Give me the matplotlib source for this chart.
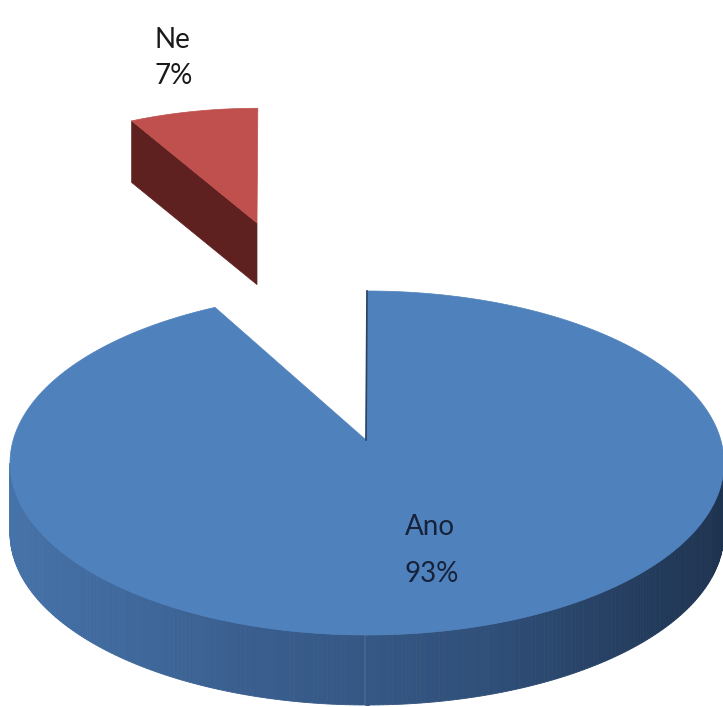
"""3D exploded pie chart: Ano / Ne"""
import numpy as np
import matplotlib
matplotlib.use('Agg')
import matplotlib.pyplot as plt
from matplotlib.patches import Polygon
from matplotlib.colors import LinearSegmentedColormap

# data
labels = ['Ano', 'Ne']
values = [93, 7]
pct_labels = ['93%', '7%']

top_colors = ['#4f81bd', '#c0504d']
face_colors = ['#2b4262', '#5e2120']

# geometry in pixel space (y grows downwards)
W, H = 723, 707
cx, cy = 367, 463          # centre of top ellipse
rx, ry = 357, 172          # radii of top ellipse
vx, vy = 366, 440          # projected pie centre (apex)
depth = 70

# exploded slice: offset + perspective shrink
explode = [None, dict(dx=-109, dy=-217, sx=0.83, sy=0.77, sd=0.88)]

side_cmap = LinearSegmentedColormap.from_list(
    'side', ['#4673aa', '#3a5f8f', '#30507a', '#1e3350'])


def ell(t, s=None):
    """point on top ellipse for angle t (deg, clockwise from top)"""
    r = np.radians(t)
    x = cx + rx * np.sin(r)
    y = cy - ry * np.cos(r)
    if s is None:
        return x, y
    return vx + s['dx'] + s['sx'] * (x - vx), vy + s['dy'] + s['sy'] * (y - vy)


def apex(s=None):
    if s is None:
        return vx, vy
    return vx + s['dx'], vy + s['dy']


fig = plt.figure(figsize=(W / 100, H / 100), dpi=100)
ax = fig.add_axes([0, 0, 1, 1])
ax.set_xlim(0, W)
ax.set_ylim(H, 0)
ax.axis('off')

bounds = np.concatenate([[0], np.cumsum(values)]) / sum(values) * 360

for i in [1, 0]:
    t0, t1 = bounds[i], bounds[i + 1]
    s = explode[i]
    d = depth * (s['sd'] if s else 1.0)
    ts = np.linspace(t0, t1, 300)
    arc = np.array([ell(t, s) for t in ts])
    ax0, ay0 = apex(s)

    # visible cut face (edge at t0 seen from the front-left)
    if s is not None:
        p = ell(t0, s)
        face = [(p[0], p[1]), (ax0, ay0), (ax0, ay0 + d), (p[0], p[1] + d)]
        ax.add_patch(Polygon(face, closed=True, fc=face_colors[i],
                             ec=face_colors[i], lw=0.5, zorder=1))

    # outer side, front half only
    lo, hi = max(t0, 90), min(t1, 270)
    if hi > lo:
        st = np.linspace(lo, hi, 240)
        pts = np.array([ell(t, s) for t in st])
        for k in range(len(st) - 1):
            (x1, y1), (x2, y2) = pts[k], pts[k + 1]
            quad = [(x1, y1), (x2, y2), (x2, y2 + d), (x1, y1 + d)]
            c = side_cmap(np.clip((x1 + x2) / 2 / W, 0, 1))
            ax.add_patch(Polygon(quad, closed=True, fc=c, ec=c, lw=0.6, zorder=2))

    # top surface
    poly = np.vstack([[ax0, ay0], arc])
    ax.add_patch(Polygon(poly, closed=True, fc=top_colors[i],
                         ec=top_colors[i], lw=0.5, zorder=3))

# thin dark edge along vertical cut of the big slice
ex, ey = ell(bounds[0])
ax.plot([vx, ex], [vy, ey], color='#2a4160', lw=1.2, zorder=4)

# labels
font = 'Lato'
fs = 20
ax.text(172, 40, labels[1], ha='center', va='center', fontsize=fs,
        family=font, color='#1a1a1a')
ax.text(174, 76, pct_labels[1], ha='center', va='center', fontsize=fs,
        family=font, color='#1a1a1a')
ax.text(430, 527, labels[0], ha='center', va='center', fontsize=fs,
        family=font, color='#17223a')
ax.text(432, 574, pct_labels[0], ha='center', va='center', fontsize=fs,
        family=font, color='#17223a')

fig.savefig('out.png', dpi=100, facecolor='white')
